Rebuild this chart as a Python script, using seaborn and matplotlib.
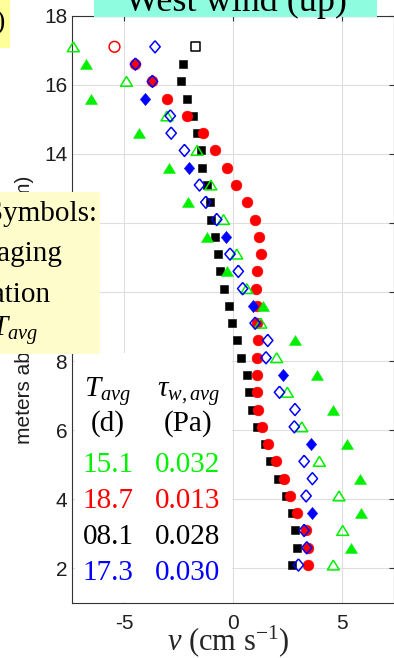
import matplotlib
matplotlib.use("Agg")
import matplotlib.pyplot as plt
from matplotlib.patches import Rectangle
import pandas as pd
import seaborn as sns

# ---- data ---------------------------------------------------------------
heights = [17.1, 16.6, 16.1, 15.6, 15.1, 14.6, 14.1, 13.6, 13.1, 12.6, 12.1,
           11.6, 11.1, 10.6, 10.1, 9.6, 9.1, 8.6, 8.1, 7.6, 7.1, 6.6, 6.1,
           5.6, 5.1, 4.6, 4.1, 3.6, 3.1, 2.6, 2.1]

v_green = [-7.33, -6.74, -4.89, -6.50, -3.03, -4.30, -1.65, -2.94, -1.02, -2.08,
           -0.44, -1.21, 0.17, -0.29, 0.63, 1.39, 1.27, 2.84, 2.00, 3.84, 2.49,
           4.57, 3.15, 5.21, 3.96, 5.83, 4.86, 5.86, 5.03, 5.41, 4.60]
v_red = [-5.44, -4.48, -3.70, -3.03, -2.11, -1.39, -0.84, -0.26, 0.15, 0.64,
         1.01, 1.21, 1.27, 1.09, 1.07, 1.09, 1.12, 1.16, 1.12, 1.12, 1.12,
         1.16, 1.31, 1.62, 1.96, 2.34, 2.61, 2.92, 3.33, 3.46, 3.46]
v_black = [-1.74, -2.29, -2.40, -2.10, -1.83, -1.65, -1.45, -1.44, -1.18, -1.06,
           -1.00, -0.83, -0.70, -0.59, -0.41, -0.17, -0.06, 0.20, 0.38, 0.63,
           0.75, 0.86, 1.08, 1.47, 1.70, 2.08, 2.43, 2.69, 2.84, 2.92, 2.72]
v_blue = [-3.58, -4.48, -3.70, -4.05, -2.88, -2.84, -2.23, -2.02, -1.54, -1.25,
          -0.75, -0.32, -0.14, 0.24, 0.44, 0.93, 1.01, 1.59, 1.51, 2.28, 2.13,
          2.84, 2.81, 3.58, 3.26, 3.64, 3.35, 3.64, 3.26, 3.38, 3.00]

# 1 = filled symbol, 0 = open symbol
fill_green = [0, 1, 0, 1, 0, 1, 0, 1, 0, 1, 0, 1, 0, 1, 0, 1, 0, 1, 0, 1, 0,
              1, 0, 1, 0, 1, 0, 1, 0, 1, 0]
fill_red = [0, 1, 1, 1, 1, 1, 1, 1, 1, 1, 1, 1, 1, 1, 1, 1, 1, 1, 1, 1, 1,
            1, 1, 1, 1, 1, 1, 1, 1, 1, 1]
fill_black = [0, 1, 1, 1, 1, 1, 1, 1, 1, 1, 1, 1, 1, 1, 1, 1, 1, 1, 1, 1, 1,
              1, 1, 1, 1, 1, 1, 1, 1, 1, 1]
fill_blue = [0, 0, 0, 1, 0, 0, 0, 1, 0, 0, 0, 1, 0, 0, 0, 1, 0, 0, 0, 1, 0,
             0, 0, 1, 0, 0, 0, 1, 0, 0, 0]

t_avg = ["15.1", "18.7", "08.1", "17.3"]
tau_avg = ["0.032", "0.013", "0.028", "0.030"]
deploy_colors = ["#00f000", "#ff0000", "#000000", "#0000ff"]

x_ticks = [-5, 0, 5]
y_ticks = [2, 4, 6, 8, 10, 12, 14, 16, 18]

# ---- style --------------------------------------------------------------
sns.set_theme(style="white")
plt.rcParams["font.family"] = ["Liberation Sans", "DejaVu Sans"]
plt.rcParams["mathtext.fontset"] = "custom"
plt.rcParams["mathtext.rm"] = "Liberation Serif"
plt.rcParams["mathtext.it"] = "Liberation Serif:italic"
plt.rcParams["mathtext.bf"] = "Liberation Serif:bold"
plt.rcParams["axes.unicode_minus"] = False

SERIF = ["Liberation Serif", "DejaVu Serif"]
W, H = 394, 658


def fx(px):
    return px / W


def fy(py):
    return 1 - py / H


fig = plt.figure(figsize=(W / 100, H / 100), dpi=100)
fig.patch.set_facecolor("white")

ax_l, ax_r, ax_t, ax_b = 72.0, 393.5, 15.7, 603.0
ax = fig.add_axes([fx(ax_l), fy(ax_b), (ax_r - ax_l) / W, (ax_b - ax_t) / H])

# ---- long table of profiles ---------------------------------------------
records = []
for name, vals, fills in [(t_avg[0], v_green, fill_green),
                          (t_avg[1], v_red, fill_red),
                          (t_avg[2], v_black, fill_black),
                          (t_avg[3], v_blue, fill_blue)]:
    for h, v, f in zip(heights, vals, fills):
        records.append({"deployment": name, "height": h, "v": v, "filled": bool(f)})
df = pd.DataFrame(records)

tri = [(0, 0.82), (-1, -0.82), (1, -0.82), (0, 0.82)]
dia = [(0, 1), (0.85, 0), (0, -1), (-0.85, 0), (0, 1)]
styles = {
    t_avg[0]: dict(marker=tri, s=74, color=deploy_colors[0]),
    t_avg[1]: dict(marker="o", s=60, color=deploy_colors[1]),
    t_avg[2]: dict(marker="s", s=40, color=deploy_colors[2]),
    t_avg[3]: dict(marker=dia, s=76, color=deploy_colors[3]),
}

for dep in [t_avg[2], t_avg[1], t_avg[0], t_avg[3]]:
    st = styles[dep]
    sub = df[df["deployment"] == dep]
    solid = sub[sub["filled"]]
    hollow = sub[~sub["filled"]]
    if len(solid):
        sns.scatterplot(data=solid, x="v", y="height", marker=st["marker"],
                        s=st["s"], color=st["color"], edgecolor=st["color"],
                        linewidth=0.4, ax=ax, legend=False, zorder=3,
                        clip_on=False)
    if len(hollow):
        sns.scatterplot(data=hollow, x="v", y="height", marker=st["marker"],
                        s=st["s"], facecolor="none", edgecolor=st["color"],
                        linewidth=1.1, ax=ax, legend=False, zorder=3,
                        clip_on=False)

# ---- axes ----------------------------------------------------------------
ax.set_xlim(-7.39, 7.36)
ax.set_ylim(1, 18)
ax.set_xticks(x_ticks)
ax.set_yticks(y_ticks)
ax.set_xticklabels([str(t) for t in x_ticks])
ax.set_yticklabels([str(t) for t in y_ticks])
ax.grid(True, color="#dedede", linewidth=0.8)
ax.set_axisbelow(True)
ax.tick_params(direction="in", length=3.5, width=0.8, top=True, right=True,
               labelsize=15, labelcolor="#1e1e1e", color="#333333")
ax.tick_params(axis="x", pad=8)
ax.tick_params(axis="y", pad=3.5)
for sp in ax.spines.values():
    sp.set_visible(True)
    sp.set_color("#333333")
    sp.set_linewidth(0.8)

ax.set_xlabel(r"$v$ (cm s$^{-1}$)", fontsize=22, family=SERIF)
ax.xaxis.label.set_va("baseline")
ax.xaxis.set_label_coords((228 - ax_l) / (ax_r - ax_l), (ax_b - 650) / (ax_b - ax_t))

ax.set_ylabel("meters above the bottom (m)", fontsize=15, color="#1e1e1e")
ax.yaxis.label.set_va("center")
ax.yaxis.set_label_coords((25 - ax_l) / (ax_r - ax_l), 0.5)

# ---- table of averaging durations and stresses ------------------------------
ax.add_patch(Rectangle((fx(74.5), fy(601.5)), (232 - 74.5) / W, (601.5 - 353) / H,
                       transform=fig.transFigure, facecolor="white",
                       edgecolor="none", zorder=1.5, clip_on=False))
col1, col2 = 108, 188
fig.text(fx(col1), fy(397), r"$T_{avg}$", fontsize=21, ha="center",
         va="baseline", color="black")
fig.text(fx(col2), fy(397), r"$\tau_{w,avg}$", fontsize=21, ha="center",
         va="baseline", color="black")
fig.text(fx(col1), fy(431), "(d)", fontsize=21, family=SERIF, ha="center",
         va="baseline", color="black")
fig.text(fx(col2), fy(431), "(Pa)", fontsize=21, family=SERIF, ha="center",
         va="baseline", color="black")
for row_y, ta, tw, c in zip([472, 508, 544, 580], t_avg, tau_avg, deploy_colors):
    fig.text(fx(col1), fy(row_y), ta, fontsize=21, family=SERIF, ha="center",
             va="baseline", color=c)
    fig.text(fx(col2), fy(row_y), tw, fontsize=21, family=SERIF, ha="center",
             va="baseline", color=c)

# ---- annotation boxes --------------------------------------------------------
fig.add_artist(Rectangle((fx(94), fy(17)), (377 - 94) / W, 17 / H,
                         transform=fig.transFigure, facecolor="#8dfcdf",
                         edgecolor="none", zorder=2))
fig.text(fx(236), fy(11), "West wind (up)", fontsize=26, family=SERIF,
         ha="center", va="baseline", color="black", zorder=3)

fig.add_artist(Rectangle((fx(0), fy(48)), 10 / W, 48 / H,
                         transform=fig.transFigure, facecolor="#ffff99",
                         edgecolor="none", zorder=2))
fig.text(fx(6), fy(29), "(b)", fontsize=20, family=SERIF, ha="right",
         va="baseline", color="black", zorder=3)

fig.add_artist(Rectangle((fx(0), fy(354)), 100 / W, (354 - 192) / H,
                         transform=fig.transFigure, facecolor="#fffccb",
                         edgecolor="none", zorder=2))
for txt, right, base in [("Symbols:", 97, 221), ("averaging", 62, 261),
                         ("duration", 50, 302), (r"$T_{avg}$", 38, 336)]:
    fig.text(fx(right), fy(base), txt, fontsize=21, family=SERIF, ha="right",
             va="baseline", color="black", zorder=3)

fig.savefig("out.png", dpi=100)
